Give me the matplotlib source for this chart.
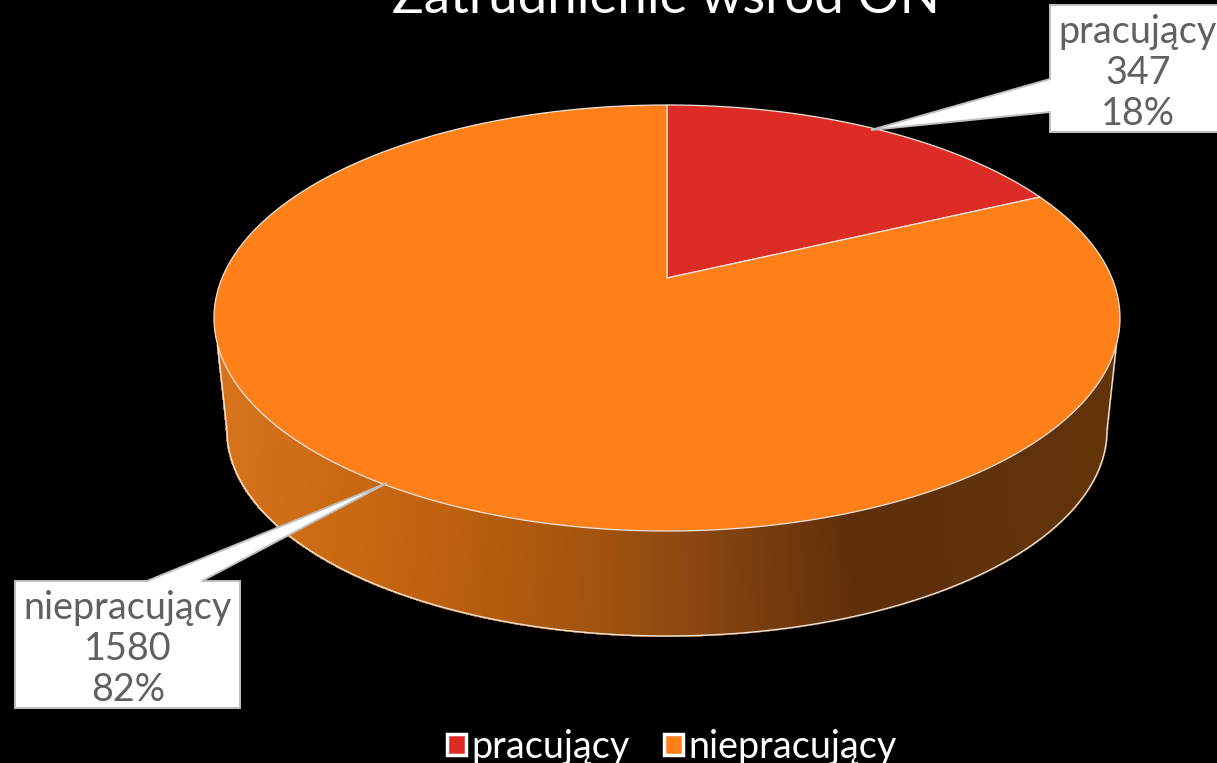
import numpy as np
import matplotlib
matplotlib.use("Agg")
import matplotlib.pyplot as plt
from matplotlib.patches import Polygon, Patch
from matplotlib.colors import LinearSegmentedColormap

categories = ["pracujący", "niepracujący"]
values = [347, 1580]
colors = ["#DD2C26", "#FF7F18"]
title = "Zatrudnienie wśród ON"

W, H = 1217, 763
CX, CY, RX, RY = 667.0, 318.0, 453.0, 213.0
APEX_SHIFT = 40.0
BX, BY, BRX, BRY = 667.0, 430.0, 440.0, 206.0
TEXT_GREY = "#606060"
RIM = "#EDE6DF"
FONT = "Lato"

plt.rcParams["font.family"] = [FONT, "DejaVu Sans"]

fig = plt.figure(figsize=(W / 100, H / 100), dpi=100, facecolor="black")
ax = fig.add_axes([0, 0, 1, 1])
ax.set_xlim(0, W)
ax.set_ylim(H, 0)
ax.axis("off")

k = APEX_SHIFT / RY
A = RX * np.sqrt(1 - k ** 2)


def project(theta):
    """Perspective view of a disc: theta runs clockwise from twelve o'clock."""
    u, v = np.sin(theta), np.cos(theta)
    w = 1 + k * v
    return CX + A * u / w, CY - (RY * v + APEX_SHIFT) / w


# ----- side wall, shaded from left to right
shade = LinearSegmentedColormap.from_list(
    "side",
    [(0.0, "#D6721A"), (0.2, "#C4630F"), (0.42, "#A2530E"), (0.56, "#854410"),
     (0.72, "#5F2F0A"), (1.0, "#63330A")],
)
n = 360
phi_b = np.linspace(np.pi, 0, n + 1)
phi_t = np.radians(90 + (np.degrees(phi_b) - 90) * (82.7 / 90))
tx, ty = CX + RX * np.cos(phi_t), CY + RY * np.sin(phi_t)
bx, by = BX + BRX * np.cos(phi_b), BY + BRY * np.sin(phi_b)
for i in range(n):
    mid = 0.5 * (bx[i] + bx[i + 1])
    c = shade((mid - (BX - BRX)) / (2 * BRX))
    ax.add_patch(Polygon([(tx[i], ty[i]), (tx[i + 1], ty[i + 1]),
                          (bx[i + 1], by[i + 1]), (bx[i], by[i])],
                         closed=True, facecolor=c, edgecolor=c, linewidth=1.0,
                         antialiased=False, zorder=1))
ax.plot(np.r_[tx[0], bx, tx[-1]], np.r_[ty[0], by, ty[-1]], color=RIM, lw=1.0, zorder=2)

# ----- top face, one wedge per value
total = sum(values)
edges = np.r_[0, np.cumsum(values)] / total * 2 * np.pi
for start, stop, col in zip(edges[:-1], edges[1:], colors):
    th = np.linspace(start, stop, 400)
    x, y = project(th)
    ax.add_patch(Polygon(np.c_[np.r_[CX, x], np.r_[CY - APEX_SHIFT, y]], closed=True,
                         facecolor=col, edgecolor=RIM, linewidth=0.9,
                         joinstyle="round", zorder=3))

# ----- callouts
boxes = [
    dict(x0=1050, x1=1225, y0=5, y1=132, pts=[(1050, 79), (871, 130), (1050, 112)], side="left", tx=1138, ty=73),
    dict(x0=15, x1=240, y0=581, y1=708, pts=[(147, 581), (387, 483), (202, 581)], side="top", tx=128, ty=649),
]
for cat, val, b in zip(categories, values, boxes):
    if b["side"] == "left":
        poly = [(b["x0"], b["y0"]), (b["x1"], b["y0"]), (b["x1"], b["y1"]), (b["x0"], b["y1"]),
                b["pts"][2], b["pts"][1], b["pts"][0]]
    else:
        poly = [(b["x0"], b["y0"]), b["pts"][0], b["pts"][1], b["pts"][2], (b["x1"], b["y0"]),
                (b["x1"], b["y1"]), (b["x0"], b["y1"])]
    ax.add_patch(Polygon(poly, closed=True, facecolor="white", edgecolor="#BFBFBF",
                         linewidth=1.4, zorder=5))
    ax.text(b["tx"], b["ty"], f"{cat}\n{val}\n{val / total * 100:.0f}%",
            ha="center", va="center", ma="center", fontsize=27.2, color=TEXT_GREY,
            linespacing=1.17, zorder=6)

# ----- title, running off the top edge
ax.text(666, 13, title, ha="center", va="baseline", color="white", fontsize=38, zorder=6)

# ----- legend
handles = [Patch(facecolor=c, edgecolor="white", linewidth=2.5, joinstyle="round") for c in colors]
ax.legend(handles, categories, ncol=2, loc="center", bbox_to_anchor=(672 / W, 1 - 747 / H),
          frameon=False, fontsize=27.2, labelcolor="white", handlelength=0.49, handleheight=0.49,
          handletextpad=0.14, columnspacing=0.92, borderpad=0, borderaxespad=0)

fig.savefig("out.png", dpi=100, facecolor="black")
